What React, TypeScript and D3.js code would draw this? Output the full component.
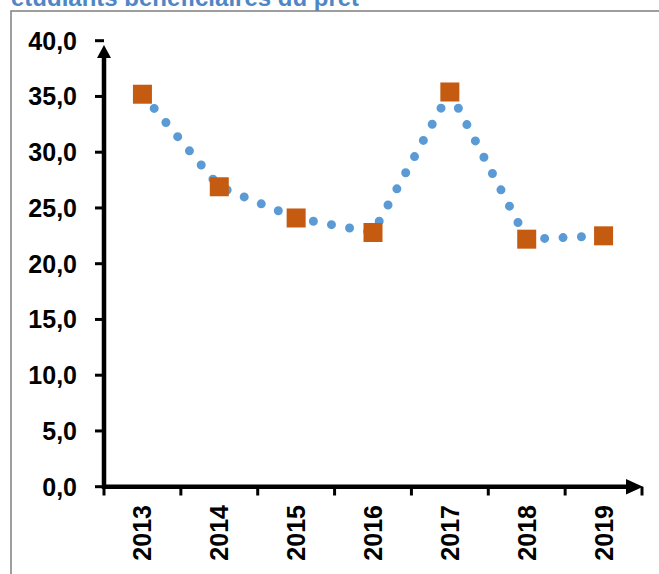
import React from "react";
import * as d3 from "d3";

const titleText = "étudiants bénéficiaires du prêt";
const years = ["2013", "2014", "2015", "2016", "2017", "2018", "2019"];
const values = [35.2, 26.9, 24.1, 22.8, 35.4, 22.2, 22.5];
const yTicks = [0, 5, 10, 15, 20, 25, 30, 35, 40];

const W = 659;
const H = 574;
const FONT = "'Liberation Sans', Arial, sans-serif";

export default function App() {
  const x = d3.scaleBand<string>().domain(years).range([104, 642]).paddingInner(0).paddingOuter(0);
  const y = d3.scaleLinear().domain([0, 40]).range([486.7, 40.7]);
  const cx = (d: string) => (x(d) as number) + x.bandwidth() / 2;
  const fmt = (v: number) => d3.format(".1f")(v).replace(".", ",");

  const pts: [number, number][] = years.map((yr, i) => [cx(yr), y(values[i])]);
  const linePath = d3.line()(pts) as string;

  const x0 = 104;
  const y0 = y(0);
  const xEnd = 643;
  const yTop = 45;
  const boundaries = d3.range(years.length + 1).map((i) => 104 + i * x.bandwidth());

  return (
    <svg
      width={W}
      height={H}
      style={{ position: "absolute", left: 0, top: 0, background: "#fff" }}
    >
      <rect x={0} y={0} width={W} height={H} fill="#fff" />
      <text x={11} y={6} fontFamily={FONT} fontWeight="bold" fontSize={24} fill="#4F86C6">
        {titleText}
      </text>
      <rect x={11} y={11} width={W + 20} height={H + 20} fill="none" stroke="#7f7f7f" strokeWidth={1.5} />

      {/* y ticks and labels */}
      {yTicks.map((t) => (
        <g key={t}>
          <line x1={95} x2={x0} y1={y(t)} y2={y(t)} stroke="#000" strokeWidth={3} />
          <text
            x={77}
            y={y(t) + 9}
            textAnchor="end"
            fontFamily={FONT}
            fontWeight="bold"
            fontSize={25}
            fill="#000"
          >
            {fmt(t)}
          </text>
        </g>
      ))}

      {/* x ticks */}
      {boundaries.map((b, i) => (
        <line key={i} x1={b} x2={b} y1={y0} y2={495.5} stroke="#000" strokeWidth={3} />
      ))}

      {/* axes */}
      <line x1={x0} x2={x0} y1={y0 + 2} y2={yTop + 10} stroke="#000" strokeWidth={4.5} />
      <path d={`M${x0},${yTop} L${x0 - 7},${yTop + 13} L${x0 + 7},${yTop + 13} Z`} fill="#000" />
      <line x1={x0 - 2} x2={xEnd - 12} y1={y0} y2={y0} stroke="#000" strokeWidth={4.5} />
      <path d={`M${xEnd},${y0} L${xEnd - 17},${y0 - 7.7} L${xEnd - 17},${y0 + 7.7} Z`} fill="#000" />

      {/* x labels */}
      {years.map((yr) => (
        <text
          key={yr}
          transform={`translate(${cx(yr) + 9},505) rotate(-90)`}
          textAnchor="end"
          fontFamily={FONT}
          fontWeight="bold"
          fontSize={25}
          fill="#000"
        >
          {yr}
        </text>
      ))}

      {/* dotted line */}
      <path
        d={linePath}
        fill="none"
        stroke="#5B9BD5"
        strokeWidth={9}
        strokeLinecap="round"
        strokeDasharray="0 18.4"
      />

      {/* markers */}
      {years.map((yr, i) => (
        <rect
          key={yr}
          x={cx(yr) - 9.5}
          y={y(values[i]) - 9.5}
          width={19}
          height={19}
          fill="#C55A11"
        />
      ))}
    </svg>
  );
}
